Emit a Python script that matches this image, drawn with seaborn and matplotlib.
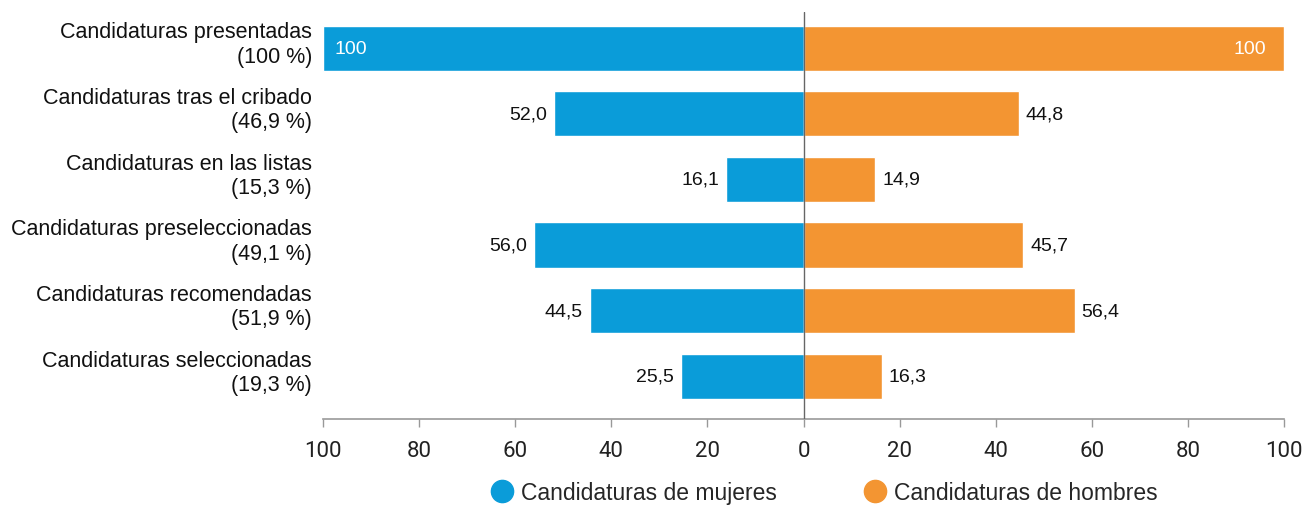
import pandas as pd
import numpy as np
import matplotlib.pyplot as plt
import seaborn as sns
from matplotlib.lines import Line2D

# datos
etapas = ["Candidaturas presentadas\n(100 %)",
          "Candidaturas tras el cribado\n(46,9 %)",
          "Candidaturas en las listas\n(15,3 %)",
          "Candidaturas preseleccionadas\n(49,1 %)",
          "Candidaturas recomendadas\n(51,9 %)",
          "Candidaturas seleccionadas\n(19,3 %)"]
mujeres = [100, 52.0, 16.1, 56.0, 44.5, 25.5]
hombres = [100, 44.8, 14.9, 45.7, 56.4, 16.3]
series = ["Candidaturas de mujeres", "Candidaturas de hombres"]
ticks = [-100, -80, -60, -40, -20, 0, 20, 40, 60, 80, 100]

azul = "#0A9CD9"
naranja = "#F39532"

df = pd.DataFrame({
    "etapa": etapas * 2,
    "valor": [-v for v in mujeres] + hombres,
    "serie": [series[0]] * len(etapas) + [series[1]] * len(etapas),
})

sns.set_style("white")
plt.rcParams['font.family'] = ['Liberation Sans', 'DejaVu Sans']

fig = plt.figure(figsize=(13.05, 5.06), dpi=100)
ax = fig.add_axes([0.2475, 0.170, 0.7365, 0.804])

sns.barplot(data=df, y="etapa", x="valor", hue="serie", dodge=False,
            palette=[azul, naranja], width=0.69, orient="h", ax=ax,
            legend=False, saturation=1)

ax.set_xlim(-100, 100)
ax.set_ylim(5.65, -0.55)
ax.axvline(0, color="#666666", lw=1, zorder=5)

def fmt(v):
    return "100" if v == 100 else ("%.1f" % v).replace(".", ",")

for i, (m, h) in enumerate(zip(mujeres, hombres)):
    if m >= 95:
        ax.annotate(fmt(m), (-m, i), xytext=(8, 0), textcoords="offset points",
                    ha="left", va="center", color="white", fontsize=14)
    else:
        ax.annotate(fmt(m), (-m, i), xytext=(-5, 0), textcoords="offset points",
                    ha="right", va="center", color="#111111", fontsize=14)
    if h >= 95:
        ax.annotate(fmt(h), (h, i), xytext=(-13, 0), textcoords="offset points",
                    ha="right", va="center", color="white", fontsize=14)
    else:
        ax.annotate(fmt(h), (h, i), xytext=(5, 0), textcoords="offset points",
                    ha="left", va="center", color="#111111", fontsize=14)

# etiquetas de categorias (un poco por encima del centro de la barra)
ax.set_yticklabels([])
ax.tick_params(axis="y", length=0)
for i, etapa in enumerate(etapas):
    ax.annotate(etapa, xy=(0, i), xycoords=("axes fraction", "data"),
                xytext=(-8, 3), textcoords="offset points", ha="right",
                va="center", multialignment="right", linespacing=1.2,
                fontsize=15.5, color="#111111")

ax.set_xticks(ticks)
ax.set_xticklabels([str(abs(t)) for t in ticks], fontfamily="Roboto",
                   fontsize=16, color="#222222")
ax.tick_params(axis="x", length=6, width=1, color="#999999", pad=9, bottom=True)

ax.set_xlabel("")
ax.set_ylabel("")
for s in ["top", "left", "right"]:
    ax.spines[s].set_visible(False)
ax.spines["bottom"].set_color("#999999")
ax.spines["bottom"].set_linewidth(1.2)

handles = [Line2D([], [], marker="o", ls="", markersize=16, color=azul),
           Line2D([], [], marker="o", ls="", markersize=16, color=naranja)]
fig.legend(handles, series, loc="center", bbox_to_anchor=(0.6297, 0.025),
           ncol=2, frameon=False, fontsize=16.5, handletextpad=0.1,
           handlelength=1.4, columnspacing=3.6)

plt.savefig("out.png", dpi=100)
